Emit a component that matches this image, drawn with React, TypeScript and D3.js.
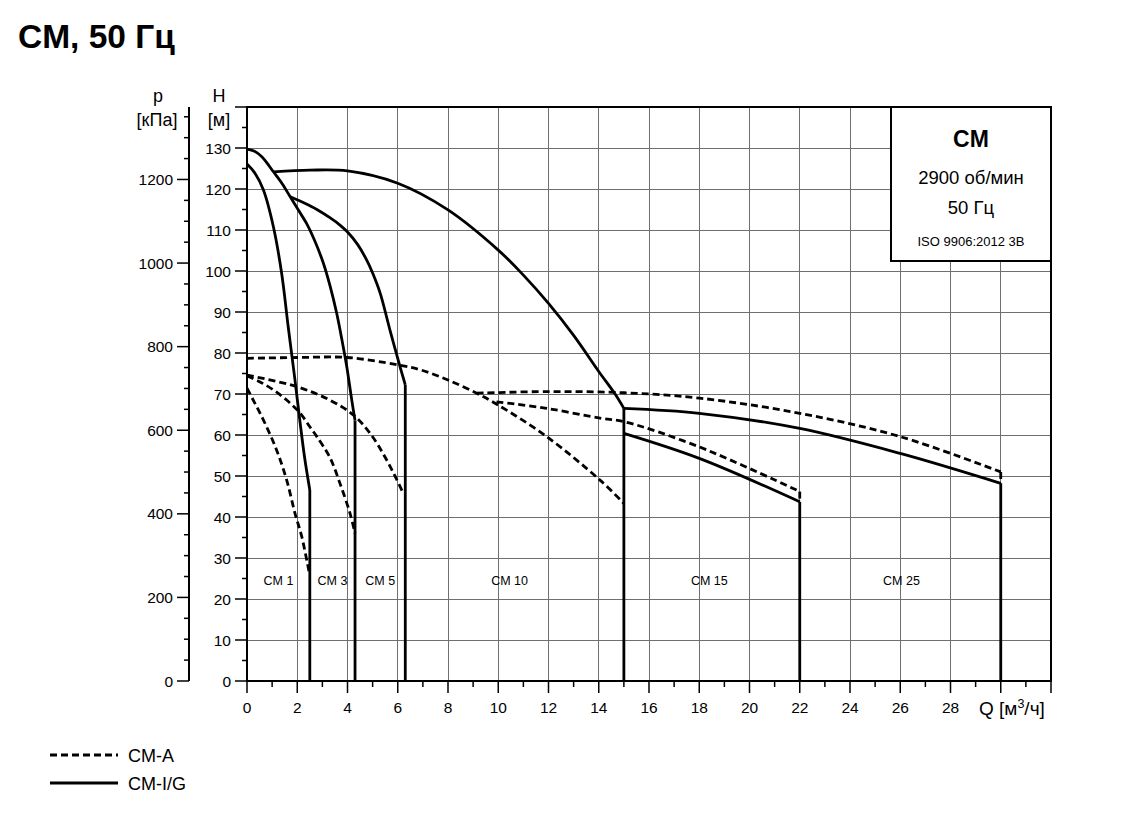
import React from "react";
import * as d3 from "d3";

// Q [m3/h], H [m]
const cm1IG = [[0, 126.1], [0.3, 124], [0.65, 119.8], [1.05, 110.8], [1.38, 99.4], [1.64, 86.4], [1.91, 73.4], [2.1, 63.7], [2.3, 54.2], [2.5, 46.6]];
const cm3IG = [[0, 129.7], [0.3, 129.2], [0.6, 127.8], [1.05, 124.2], [1.4, 121.3], [1.72, 118.1], [2.05, 114.8], [2.37, 111.6], [2.7, 107.3], [3.04, 101.9], [3.3, 96.5], [3.57, 89.7], [3.8, 82.5], [3.97, 76.7], [4.17, 68.5], [4.3, 63.5]];
const cm5IG = [[1.72, 118.1], [2.3, 116.5], [2.78, 115], [3.3, 113], [3.7, 111.2], [4, 109.5], [4.4, 106.5], [4.76, 102.7], [5, 99.5], [5.3, 94.6], [5.69, 85.6], [6.09, 76.7], [6.3, 72.2]];
const cm10IG = [[1.05, 124.2], [2.5, 124.6], [4, 124.4], [6, 121.4], [8, 114.9], [10, 105.1], [11, 99], [12, 92.1], [13, 84.3], [14, 75.5], [14.65, 70], [15, 66.5]];
const cm15IG = [[15, 60.4], [18, 54.3], [22, 43.7]];
const cm25IG = [[15, 66.5], [18, 65.3], [22, 61.6], [26, 55.5], [30, 48.2]];

const cm1A = [[0, 71.4], [0.3, 67.9], [0.65, 63.7], [1.18, 56.3], [1.58, 49], [1.91, 40.9], [2.18, 35.2], [2.47, 26.6]];
const cm3A = [[0, 74.4], [0.5, 73], [1.05, 71], [1.6, 68.4], [2.12, 65.3], [2.5, 62], [2.78, 59.6], [3.3, 54.5], [3.7, 48.2], [4.1, 40.9], [4.3, 36]];
const cm5A = [[0, 74.6], [1.98, 71.8], [3.3, 68.5], [4.23, 64.9], [4.9, 60.4], [5.56, 53.9], [6.22, 45.8]];
const cm10A = [[0, 78.7], [2, 78.9], [4, 78.9], [6, 77.1], [6.9, 75.9], [8, 73.4], [9.14, 70.2], [10, 67.3], [11.93, 59.6], [14.05, 49], [15, 43.3]];
const cm15A = [[9.93, 68.1], [11.93, 66.5], [14.05, 64.1], [15.04, 63.2], [18, 57.1], [22, 46.2]];
const cm25A = [[9.14, 70.2], [12, 70.6], [15, 70.3], [18, 69], [22, 65.3], [26, 59.6], [30, 51]];

// vertical drops at max flow: [Q, Htop, Hbottom]
const solidDrops = [[2.5, 46.6, 0], [4.3, 63.5, 0], [6.3, 72.2, 0], [15, 66.5, 0], [22, 43.7, 0], [30, 48.2, 0]];
const dashedDrops = [[22, 46.2, 43.7], [30, 51, 48.2]];

const rangeLabels = ["CM 1", "CM 3", "CM 5", "CM 10", "CM 15", "CM 25"];
const rangeLabelQ = [1.25, 3.4, 5.3, 10.45, 18.4, 26.05];

const qTicks = d3.range(0, 30, 2);
const hTicks = d3.range(0, 140, 10);
const pTicks = d3.range(0, 1400, 200);

const FONT = "'Liberation Sans', Arial, sans-serif";

export default function App() {
  const x = d3.scaleLinear().domain([0, 32]).range([247, 1051]);
  const y = d3.scaleLinear().domain([0, 140]).range([681, 107]);
  const yp = d3.scaleLinear().domain([0, 140 * 9.81]).range([681, 107]);

  const line = d3.line<number[]>().x(d => x(d[0])).y(d => y(d[1])).curve(d3.curveCatmullRom.alpha(0.5));

  const solids = [cm1IG, cm3IG, cm5IG, cm10IG, cm15IG, cm25IG];
  const dashes = [cm1A, cm3A, cm5A, cm10A, cm15A, cm25A];
  const dash = "7,4";

  return (
    <svg width={1137} height={837} style={{ position: "absolute", left: 0, top: 0, background: "#fff" }} fontFamily={FONT}>
      <text x={18} y={48} fontSize={33.5} fontWeight="bold">CM, 50 Гц</text>

      {/* grid */}
      <g stroke="#6f6f6f" strokeWidth={1} shapeRendering="crispEdges">
        {d3.range(2, 32, 2).map(q => <line key={"gx" + q} x1={x(q)} x2={x(q)} y1={y(0)} y2={y(140)} />)}
        {d3.range(10, 140, 10).map(h => <line key={"gy" + h} x1={x(0)} x2={x(32)} y1={y(h)} y2={y(h)} />)}
      </g>

      {/* frame */}
      <rect x={x(0)} y={y(140)} width={x(32) - x(0)} height={y(0) - y(140)} fill="none" stroke="#000" strokeWidth={2} />

      {/* x ticks */}
      <g stroke="#000" strokeWidth={1.5}>
        {d3.range(0, 33, 1).map(q => (
          <line key={"tx" + q} x1={x(q)} x2={x(q)} y1={y(0)} y2={y(0) + (q % 2 === 0 ? 12 : 6)} />
        ))}
      </g>
      <g fontSize={15.5} textAnchor="middle">
        {qTicks.map(q => <text key={"lx" + q} x={x(q)} y={713}>{q}</text>)}
      </g>
      <text x={979} y={715} fontSize={19}>Q [м<tspan fontSize={12.5} dy={-7}>3</tspan><tspan dy={7}>/ч]</tspan></text>

      {/* H axis ticks */}
      <g stroke="#000" strokeWidth={1.5}>
        {d3.range(0, 141, 5).map(h => (
          <line key={"th" + h} x1={x(0) - (h % 10 === 0 ? 12 : 5)} x2={x(0)} y1={y(h)} y2={y(h)} />
        ))}
      </g>
      <g fontSize={15.5} textAnchor="end">
        {hTicks.map(h => <text key={"lh" + h} x={231} y={y(h)} dy="0.36em">{h}</text>)}
      </g>
      <text x={219} y={102} fontSize={18} textAnchor="middle">H</text>
      <text x={219} y={126} fontSize={18} textAnchor="middle">[м]</text>

      {/* p axis */}
      <line x1={189} x2={189} y1={y(140)} y2={y(0)} stroke="#000" strokeWidth={2} />
      <g stroke="#000" strokeWidth={1.5}>
        {d3.range(0, 1373, 50).map(p => (
          <line key={"tp" + p} x1={189 - (p % 200 === 0 ? 12 : 5)} x2={189} y1={yp(p)} y2={yp(p)} />
        ))}
      </g>
      <g fontSize={15.5} textAnchor="end">
        {pTicks.map(p => <text key={"lp" + p} x={173} y={yp(p)} dy="0.36em">{p}</text>)}
      </g>
      <text x={158} y={102} fontSize={18} textAnchor="middle">p</text>
      <text x={157} y={126} fontSize={18} textAnchor="middle">[кПа]</text>

      {/* curves */}
      <g fill="none" stroke="#000" strokeWidth={2.8}>
        {dashes.map((d, i) => <path key={"da" + i} d={line(d) || ""} strokeDasharray={dash} />)}
        {dashedDrops.map((d, i) => (
          <line key={"dd" + i} x1={x(d[0])} x2={x(d[0])} y1={y(d[1])} y2={y(d[2])} strokeDasharray={dash} />
        ))}
        {solids.map((d, i) => <path key={"so" + i} d={line(d) || ""} />)}
        {solidDrops.map((d, i) => (
          <line key={"sd" + i} x1={x(d[0])} x2={x(d[0])} y1={y(d[1])} y2={y(d[2])} />
        ))}
      </g>

      <g fontSize={12.5} textAnchor="middle">
        {rangeLabels.map((t, i) => <text key={t} x={x(rangeLabelQ[i])} y={585}>{t}</text>)}
      </g>

      {/* info box */}
      <rect x={891} y={y(140)} width={x(32) - 891} height={261 - y(140)} fill="#fff" stroke="#000" strokeWidth={2} />
      <g textAnchor="middle">
        <text x={971} y={147} fontSize={23} fontWeight="bold">CM</text>
        <text x={971} y={184} fontSize={18.5}>2900 об/мин</text>
        <text x={971} y={214} fontSize={18.5}>50 Гц</text>
        <text x={971} y={246} fontSize={13}>ISO 9906:2012 3B</text>
      </g>

      {/* legend */}
      <line x1={50} x2={118} y1={755} y2={755} stroke="#000" strokeWidth={2.8} strokeDasharray={dash} />
      <text x={128} y={762} fontSize={18}>CM-A</text>
      <line x1={50} x2={118} y1={783} y2={783} stroke="#000" strokeWidth={2.8} />
      <text x={128} y={790} fontSize={18}>CM-I/G</text>
    </svg>
  );
}
